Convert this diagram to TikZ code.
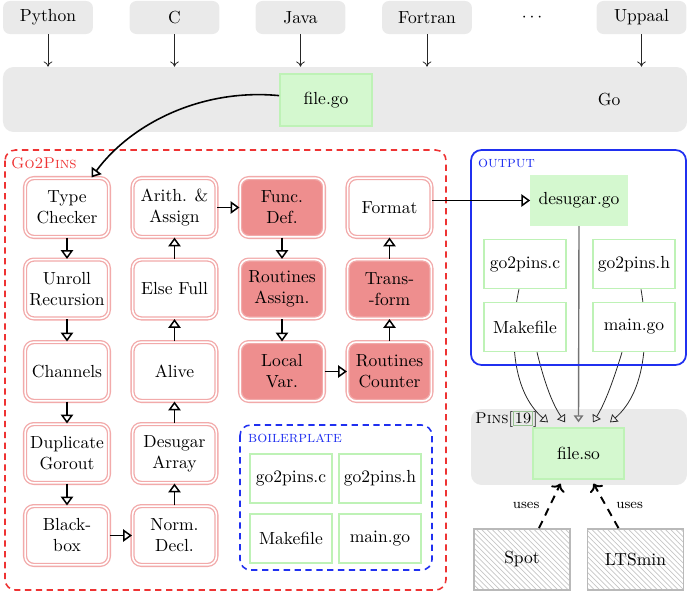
\documentclass[tikz,border=0pt]{standalone}
\usetikzlibrary{arrows.meta,patterns,calc}
\pgfdeclarelayer{back}\pgfdeclarelayer{mid}
\pgfsetlayers{back,mid,main}
\definecolor{grayF}{HTML}{EAEAEA}
\definecolor{greenF}{HTML}{D4F8CF}
\definecolor{greenB}{HTML}{BEF2B6}
\definecolor{pinkB}{HTML}{F2AAAA}
\definecolor{redF}{HTML}{EE8E8E}
\definecolor{redD}{HTML}{EE3333}
\definecolor{blueD}{HTML}{2030F0}
\begin{document}
\begin{tikzpicture}[x=0.5714pt,y=-0.5714pt,
  lang/.style={fill=grayF, rounded corners=4pt, minimum width=51.4pt, minimum height=18.9pt, inner sep=0pt},
  band/.style={fill=grayF, rounded corners=6pt, inner sep=0pt},
  pass/.style={draw=pinkB, double=white, double distance=0.9pt, line width=0.75pt, rounded corners=5pt, minimum width=47.9pt, minimum height=33.6pt, align=center, inner sep=1pt, fill=white},
  hot/.style={pass, fill=redF},
  file/.style={draw=greenB, line width=0.9pt, minimum width=47pt, minimum height=28pt, fill=white, inner sep=0pt},
  gfile/.style={file, fill=greenF},
  passarrow/.style={line width=0.85pt, -{Triangle[open,length=5pt,width=7pt]}},
  outarrow/.style={line width=0.45pt, black!85, -{Triangle[open,length=4pt,width=5.5pt]}},
  langarrow/.style={line width=0.45pt, black!85, -{To[length=3pt,width=5pt]}},
  ext/.style={draw=gray!55, line width=1pt, pattern=north west lines, pattern color=gray!45, minimum width=54.9pt, minimum height=34.9pt},
  uses/.style={dashed, dash pattern=on 4.5pt off 3.5pt, line width=1.1pt, ->}
]
\useasboundingbox (0,0) rectangle (687,594);

% top languages
\node[lang] (py) at (48,17.5) {Python};
\node[lang] (c) at (174.5,17.5) {C};
\node[lang] (java) at (300.5,17.5) {Java};
\node[lang] (fort) at (427,17.5) {Fortran};
\node (dots) at (532,17.5) {$\cdots$};
\node[lang] (upp) at (641.5,17.5) {Uppaal};

\begin{pgfonlayer}{back}
\node[band, minimum width=390.9pt, minimum height=37.1pt] (goband) at (345,99.5) {};
\node[band, minimum width=123.4pt, minimum height=43.4pt] (pins) at (579,447) {};
\end{pgfonlayer}
\node at (609,100) {Go};
\node[gfile, minimum width=52.6pt, minimum height=29.7pt] (fg) at (326,100) {file.go};

\foreach \n in {py,c,java,fort,upp}
  \draw[langarrow] (\n.south) -- (\n.south |- goband.north);

% Go2Pins frame
\draw[redD, dashed, dash pattern=on 3.6pt off 2.6pt, line width=0.9pt, rounded corners=6pt] (5,150) rectangle (446,590);
\node[anchor=west, text=redD, font=\small] (g2plabel) at (5,163) {\textsc{Go2Pins}};

% passes
\node[pass] (tc) at (67,207.5) {Type\\Checker};
\node[pass] (ur) at (67,289) {Unroll\\Recursion};
\node[pass] (ch) at (67,371.5) {Channels};
\node[pass] (dg) at (67,453.5) {Duplicate\\Gorout};
\node[pass] (bb) at (67,535.5) {Black-\\box};
\node[pass] (nd) at (174.5,535.5) {Norm.\\Decl.};
\node[pass] (da) at (174.5,453.5) {Desugar\\Array};
\node[pass] (al) at (174.5,371.5) {Alive};
\node[pass] (ef) at (174.5,289) {Else Full};
\node[pass] (ar) at (174.5,207.5) {Arith. \&\\Assign};
\node[hot] (fd) at (282,207.5) {Func.\\Def.};
\node[hot] (ra) at (282,289) {Routines\\Assign.};
\node[hot] (lv) at (282,371.5) {Local\\Var.};
\node[hot] (rc) at (389.5,371.5) {Routines\\Counter};
\node[hot] (tf) at (389.5,289) {Trans-\\-form};
\node[pass] (fm) at (389.5,207.5) {Format};

\draw[passarrow] (tc) -- (ur);
\draw[passarrow] (ur) -- (ch);
\draw[passarrow] (ch) -- (dg);
\draw[passarrow] (dg) -- (bb);
\draw[passarrow] (bb) -- (nd);
\draw[passarrow] (nd) -- (da);
\draw[passarrow] (da) -- (al);
\draw[passarrow] (al) -- (ef);
\draw[passarrow] (ef) -- (ar);
\draw[passarrow] (ar) -- (fd);
\draw[passarrow] (fd) -- (ra);
\draw[passarrow] (ra) -- (lv);
\draw[passarrow] (lv) -- (rc);
\draw[passarrow] (rc) -- (tf);
\draw[passarrow] (tf) -- (fm);

% file.go -> type checker
\draw[passarrow, line width=0.9pt] ([yshift=2.5pt]fg.west) .. controls (200,88) and (130,125) .. ([xshift=14pt]tc.north);

% boilerplate
\draw[blueD, dashed, dash pattern=on 3.6pt off 2.6pt, line width=0.9pt, rounded corners=6pt] (240,425) rectangle (432,570);
\node[anchor=west, text=blueD, font=\small] (bplabel) at (242,438) {\textsc{boilerplate}};
\node[file] (bc) at (291,478.5) {go2pins.c};
\node[file] (bh) at (380,478.5) {go2pins.h};
\node[file] (bm) at (291,538.5) {Makefile};
\node[file] (bg) at (380,538.5) {main.go};

% output
\draw[blueD, line width=1pt, rounded corners=6pt] (471,150) rectangle (686,365);
\node[anchor=west, text=blueD, font=\small] (outlabel) at (472,163) {\textsc{output}};
\node[gfile, minimum width=54.9pt, draw=greenF] (ds) at (579,200.5) {desugar.go};
\node[file] (oc) at (525,264) {go2pins.c};
\node[file] (oh) at (634,264) {go2pins.h};
\node[file] (om) at (525,327) {Makefile};
\node[file] (og) at (634,327) {main.go};

\draw[passarrow] (fm.east |- ds.west) -- (ds.west);

% pins
\node[anchor=west, font=\small] (pinslabel) at (469,419) {\textsc{Pins}[{\setlength\fboxsep{0.6pt}\setlength\fboxrule{0.5pt}\color{greenB!80!black}\fbox{\color{black}19}}]};
\node[gfile, minimum width=52pt, minimum height=29pt] (so) at (578.5,453.5) {file.so};

\begin{pgfonlayer}{mid}
\draw[outarrow] ($(oc.south)+(-6,0)$) .. controls (510,330) and (510,390) .. ($(so.north)+(-30.5,-5)$);
\draw[outarrow] ($(om.south)+(12,0)$) .. controls (545,385) and (553,405) .. ($(so.north)+(-13.5,-5)$);
\draw[outarrow, black!55, line width=0.8pt] (ds.south) -- ($(so.north)+(0,-5)$);
\draw[outarrow] ($(og.south)+(-12,0)$) .. controls (612,385) and (604,405) .. ($(so.north)+(14.5,-5)$);
\draw[outarrow] ($(oh.south)+(7,0)$) .. controls (648,330) and (648,390) .. ($(so.north)+(31.5,-5)$);
\end{pgfonlayer}

% tools
\node[ext] (spot) at (522,559.5) {Spot};
\node[ext] (lts) at (635.5,559.5) {LTSmin};
\draw[uses] ($(spot.north)+(17,0)$) -- ($(so.south)+(-18,4)$) node[midway, left=2pt, font=\footnotesize] {uses};
\draw[uses] ($(lts.north)+(-17,0)$) -- ($(so.south)+(15,4)$) node[midway, right=2pt, font=\footnotesize] {uses};
\end{tikzpicture}
\end{document}
